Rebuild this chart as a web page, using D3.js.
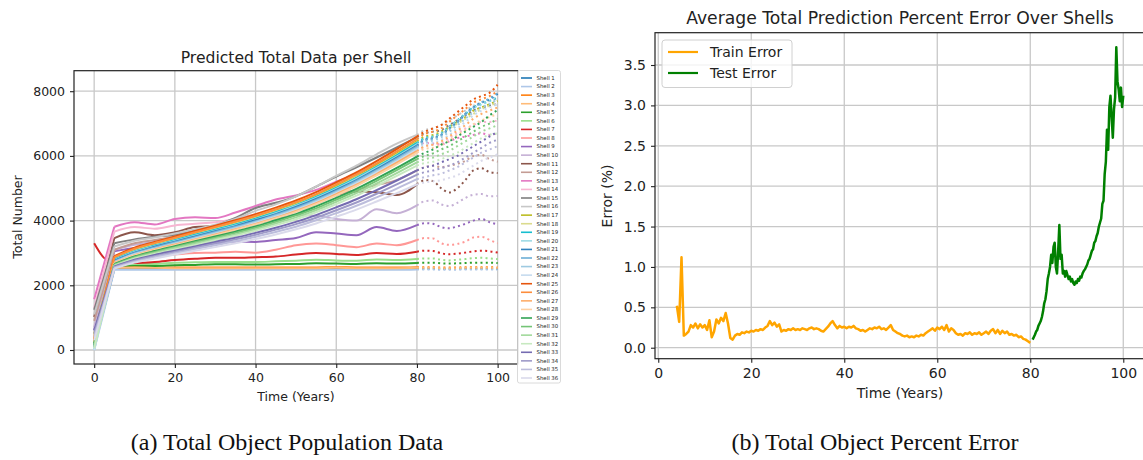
<!DOCTYPE html>
<html>
<head>
<meta charset="utf-8">
<script src="https://cdn.jsdelivr.net/npm/d3@7"></script>
<style>
body { margin: 0; background: #fff; }
text { font-family: "DejaVu Sans", sans-serif; fill: #222; }
.caption { font-family: "Liberation Serif", "DejaVu Serif", serif; fill: #111; }
</style>
</head>
<body>
<svg id="fig" width="1143" height="460"></svg>
<script>
// ---------- data: left panel (predicted totals per shell)
var solidYears = [0, 2.5, 5, 10, 15, 20, 25, 30, 35, 40, 45, 50, 55, 60, 65, 70, 75, 80];
var forecastYears = [80, 82, 84, 86, 88, 90, 92, 94, 96, 98, 100];
var shellNames = d3.range(1, 37).map(function(i) { return "Shell " + i; });
var shellColors = ["#1f77b4","#aec7e8","#ff7f0e","#ffbb78","#2ca02c","#98df8a","#d62728","#ff9896","#9467bd","#c5b0d5",
  "#8c564b","#c49c94","#e377c2","#f7b6d2","#7f7f7f","#c7c7c7","#bcbd22","#dbdb8d","#17becf","#9edae5",
  "#3182bd","#6baed6","#9ecae1","#c6dbef","#e6550d","#fd8d3c","#fdae6b","#fdd0a2","#31a354","#74c476",
  "#a1d99b","#c7e9c0","#756bb1","#9e9ac8","#bcbddc","#dadaeb"];

var shellSolid = [
  [100,1300,2500,2500,2500,2500,2500,2500,2500,2500,2500,2500,2500,2500,2500,2500,2500,2510],
  [0,1240,2480,2480,2480,2480,2480,2480,2480,2480,2480,2480,2480,2480,2480,2480,2480,2490],
  [400,1480,2560,2560,2550,2550,2550,2550,2550,2550,2550,2550,2550,2560,2550,2550,2550,2560],
  [300,1420,2540,2540,2540,2530,2530,2530,2530,2530,2530,2530,2530,2540,2530,2530,2530,2540],
  [210,1400,2590,2620,2600,2620,2630,2650,2650,2640,2650,2660,2680,2670,2660,2680,2670,2690],
  [250,1440,2630,2660,2660,2700,2710,2720,2720,2720,2740,2760,2790,2770,2760,2800,2780,2810],
  [3300,2840,2700,2690,2720,2780,2820,2850,2850,2870,2890,2950,3000,2970,2940,3000,2970,3040],
  [450,1600,2750,2850,2900,2950,3000,3010,3040,3010,3100,3240,3290,3240,3180,3290,3240,3400],
  [620,1840,3050,3150,3200,3250,3280,3300,3350,3340,3400,3460,3640,3600,3550,3800,3680,3860],
  [700,1900,3100,3250,3350,3450,3550,3650,3750,3900,4050,4170,4150,4050,4000,4350,4230,4470],
  [1020,2240,3460,3640,3550,3640,3800,3840,4050,4150,4300,4500,4650,4800,4900,4880,4790,5120],
  [900,2000,3100,3300,3400,3500,3600,3750,3850,4000,4200,4400,4600,4800,4950,5100,5250,5550],
  [1570,2690,3810,3950,3880,4050,4100,4080,4250,4450,4650,4780,4950,5200,5450,5750,6000,6300],
  [1300,2480,3660,3800,3750,3850,3900,3950,4050,4200,4350,4500,4700,4950,5250,5550,5850,6150],
  [1240,2270,3300,3420,3500,3560,3700,3850,4080,4390,4550,4750,5050,5360,5650,5950,6260,6580],
  [1100,2150,3200,3380,3480,3600,3730,3870,4050,4300,4500,4750,5050,5380,5700,6050,6380,6650],
  [500,1670,2840,3090,3270,3440,3600,3760,3930,4110,4310,4520,4780,5070,5370,5720,6080,6460],
  [450,1640,2820,3070,3250,3410,3580,3740,3900,4080,4280,4490,4750,5030,5340,5680,6040,6420],
  [200,1500,2800,3050,3230,3390,3560,3720,3880,4060,4260,4470,4730,5010,5320,5660,6020,6400],
  [0,1390,2780,3030,3210,3370,3530,3690,3850,4030,4230,4450,4700,4980,5290,5630,5980,6360],
  [150,1460,2760,3010,3190,3350,3510,3670,3830,4010,4200,4420,4670,4950,5250,5590,5950,6320],
  [100,1420,2740,2990,3170,3330,3490,3650,3810,3980,4180,4390,4640,4920,5230,5560,5920,6290],
  [50,1390,2720,2970,3140,3300,3460,3620,3780,3960,4150,4360,4610,4890,5190,5530,5880,6250],
  [0,1350,2700,2950,3120,3280,3440,3590,3750,3930,4120,4330,4570,4850,5150,5480,5830,6200],
  [300,1600,2900,3160,3340,3510,3680,3840,4010,4200,4400,4620,4880,5180,5490,5840,6210,6600],
  [350,1610,2870,3130,3310,3470,3640,3800,3970,4150,4350,4570,4820,5120,5430,5770,6140,6520],
  [250,1470,2690,2930,3110,3260,3420,3570,3730,3900,4090,4300,4540,4820,5110,5440,5790,6150],
  [200,1440,2680,2920,3090,3240,3400,3550,3710,3880,4070,4270,4510,4780,5070,5400,5740,6100],
  [200,1430,2660,2890,3060,3210,3360,3510,3660,3820,4010,4200,4440,4700,4980,5300,5630,5980],
  [150,1400,2640,2870,3030,3180,3330,3470,3620,3780,3960,4160,4380,4650,4920,5230,5560,5900],
  [100,1360,2620,2840,3000,3150,3290,3430,3570,3730,3910,4100,4320,4580,4850,5150,5470,5800],
  [50,1330,2600,2820,2970,3110,3250,3390,3530,3690,3860,4040,4260,4510,4770,5070,5380,5700],
  [600,1590,2580,2790,2940,3070,3200,3340,3470,3620,3780,3960,4170,4410,4660,4940,5240,5550],
  [500,1530,2560,2760,2900,3030,3160,3290,3420,3560,3720,3890,4090,4320,4560,4830,5120,5420],
  [400,1470,2540,2730,2870,2990,3120,3240,3360,3500,3650,3810,4010,4230,4460,4720,4990,5280],
  [300,1410,2520,2700,2830,2950,3070,3180,3300,3430,3570,3730,3910,4120,4340,4590,4850,5120]
];

var shellForecast = [
  [2510,2510,2510,2500,2500,2510,2510,2510,2510,2510,2500],
  [2490,2490,2490,2480,2480,2480,2490,2490,2490,2490,2480],
  [2560,2560,2560,2550,2550,2550,2560,2560,2560,2560,2550],
  [2540,2540,2540,2530,2530,2530,2540,2540,2540,2540,2530],
  [2690,2700,2700,2680,2670,2680,2690,2700,2700,2700,2690],
  [2810,2830,2830,2790,2770,2790,2810,2840,2850,2830,2810],
  [3040,3070,3060,2990,2960,2980,3010,3050,3070,3050,3010],
  [3400,3460,3450,3300,3250,3280,3350,3480,3500,3400,3300],
  [3860,3920,3900,3800,3760,3820,3900,4000,4050,3950,3880],
  [4470,4600,4620,4500,4450,4550,4700,4800,4820,4750,4760],
  [5120,5250,5220,5000,4870,5000,5250,5550,5620,5500,5470],
  [5550,5650,5700,5650,5700,5750,5850,6000,6030,5900,5820],
  [6300,6400,6380,6350,6450,6550,6600,6650,6700,6650,6700],
  [6150,6300,6350,6400,6550,6700,6850,6950,7050,7050,7100],
  [6580,6700,6750,6800,6950,7100,7250,7400,7500,7550,7600],
  [6650,6800,6850,6950,7100,7250,7400,7550,7650,7700,7750],
  [6460,6600,6650,6750,6900,7050,7200,7400,7500,7600,7700],
  [6420,6550,6600,6700,6850,7000,7150,7300,7450,7550,7650],
  [6400,6550,6600,6700,6900,7100,7300,7500,7600,7700,7800],
  [6360,6520,6580,6680,6880,7080,7280,7480,7600,7700,7850],
  [6320,6500,6550,6650,6850,7050,7300,7500,7650,7750,7920],
  [6290,6480,6530,6630,6830,7030,7280,7480,7650,7780,7950],
  [6250,6420,6480,6580,6750,6950,7150,7350,7500,7600,7750],
  [6200,6350,6400,6500,6650,6850,7050,7250,7400,7500,7600],
  [6600,6750,6850,6950,7150,7350,7550,7750,7850,7950,8200],
  [6520,6680,6750,6850,7050,7250,7450,7650,7750,7850,8000],
  [6150,6300,6350,6450,6600,6780,6950,7150,7300,7400,7500],
  [6100,6220,6250,6330,6480,6650,6800,6980,7100,7200,7300],
  [5980,6100,6200,6350,6450,6600,6750,6900,7050,7250,7420],
  [5900,6000,6080,6200,6300,6450,6600,6750,6900,7000,7150],
  [5800,5900,5950,6050,6150,6300,6450,6600,6750,6850,6950],
  [5700,5780,5820,5900,6000,6100,6250,6400,6550,6650,6700],
  [5550,5650,5700,5800,5900,6000,6150,6300,6450,6600,6750],
  [5420,5500,5550,5620,5700,5800,5950,6100,6250,6400,6500],
  [5280,5350,5400,5450,5550,5650,5800,5950,6100,6200,6300],
  [5120,5180,5220,5250,5320,5400,5550,5700,5850,5950,6050]
];

var leftXTicks = [0, 20, 40, 60, 80, 100];
var leftYTicks = [0, 2000, 4000, 6000, 8000];

// ---------- data: right panel (average percent error)
var trainStart = 4, trainStep = 0.5;
var trainError = [0.52,0.32,1.12,0.15,0.17,0.2,0.28,0.25,0.3,0.24,0.29,0.25,0.28,0.22,0.34,0.13,0.2,0.35,0.3,0.37,
  0.33,0.43,0.3,0.12,0.1,0.15,0.17,0.16,0.19,0.18,0.2,0.19,0.21,0.2,0.22,0.21,0.23,0.22,0.25,0.27,
  0.33,0.28,0.31,0.26,0.29,0.2,0.22,0.21,0.23,0.22,0.24,0.22,0.23,0.22,0.24,0.23,0.22,0.24,0.25,0.23,
  0.24,0.23,0.21,0.2,0.23,0.26,0.3,0.33,0.28,0.24,0.27,0.25,0.26,0.24,0.26,0.25,0.27,0.24,0.23,0.21,
  0.22,0.2,0.22,0.24,0.23,0.25,0.24,0.26,0.23,0.24,0.22,0.25,0.28,0.22,0.2,0.18,0.17,0.15,0.14,0.15,
  0.13,0.14,0.13,0.15,0.14,0.16,0.15,0.18,0.2,0.22,0.24,0.21,0.25,0.23,0.26,0.22,0.28,0.2,0.24,0.22,
  0.18,0.16,0.17,0.15,0.18,0.17,0.19,0.16,0.18,0.17,0.19,0.16,0.18,0.2,0.17,0.21,0.23,0.18,0.22,0.17,
  0.21,0.18,0.2,0.16,0.17,0.15,0.16,0.13,0.14,0.11,0.1,0.08,0.06];
var testStart = 80.5, testStep = 0.25;
var testError = [0.1,0.13,0.16,0.2,0.22,0.27,0.3,0.33,0.38,0.45,0.55,0.6,0.7,0.85,0.92,1.0,1.15,1.05,1.25,1.3,
  1.0,0.92,1.2,1.52,1.1,1.15,0.92,0.95,0.88,0.95,0.9,0.85,0.88,0.82,0.85,0.8,0.78,0.82,0.8,0.85,
  0.83,0.88,0.87,0.92,0.95,0.97,1.0,1.03,1.08,1.1,1.15,1.2,1.22,1.3,1.32,1.38,1.42,1.5,1.55,1.6,
  1.78,1.82,2.15,2.3,2.7,2.45,2.98,3.12,2.85,2.6,2.95,3.1,3.72,3.3,3.2,3.05,3.22,2.98,3.12];
var rightXTicks = [0, 20, 40, 60, 80, 100];
var rightYTicks = [0, 0.5, 1, 1.5, 2, 2.5, 3, 3.5];

var svg = d3.select("#fig");

// draws grid, ticks and frame for one panel
var drawFrame = function(g, x, y, xTicks, yTicks, yFmt, fs)
{
    var xr = x.range(), yr = y.range();
    g.append("g").selectAll("line").data(xTicks).enter().append("line")
        .attr("x1", function(d) { return x(d); }).attr("x2", function(d) { return x(d); })
        .attr("y1", yr[0]).attr("y2", yr[1])
        .attr("stroke", "#c8c8c8").attr("stroke-width", 1.3);
    g.append("g").selectAll("line").data(yTicks).enter().append("line")
        .attr("x1", xr[0]).attr("x2", xr[1])
        .attr("y1", function(d) { return y(d); }).attr("y2", function(d) { return y(d); })
        .attr("stroke", "#c8c8c8").attr("stroke-width", 1.3);

    var ax = g.append("g").attr("transform", "translate(0," + yr[0] + ")")
        .call(d3.axisBottom(x).tickValues(xTicks).tickSize(4).tickPadding(5).tickFormat(d3.format("d")));
    var ay = g.append("g").attr("transform", "translate(" + xr[0] + ",0)")
        .call(d3.axisLeft(y).tickValues(yTicks).tickSize(4).tickPadding(5).tickFormat(yFmt));
    [ax, ay].forEach(function(a) {
        a.select(".domain").remove();
        a.selectAll("line").attr("stroke", "#222").attr("stroke-width", 1.1);
        a.selectAll("text").attr("font-family", "DejaVu Sans").attr("font-size", fs).attr("fill", "#222");
    });
}

var drawSpines = function(g, x, y)
{
    var xr = x.range(), yr = y.range();
    g.append("rect").attr("x", xr[0]).attr("y", yr[1])
        .attr("width", xr[1] - xr[0]).attr("height", yr[0] - yr[1])
        .attr("fill", "none").attr("stroke", "#222").attr("stroke-width", 1.2);
}

// ---------- left panel
var xL = d3.scaleLinear().domain([-5, 105]).range([74, 517.8]);
var yL = d3.scaleLinear().domain([-433, 8634]).range([364, 70.7]);
var gL = svg.append("g");
drawFrame(gL, xL, yL, leftXTicks, leftYTicks, d3.format("d"), 12.5);

var lineL = d3.line()
    .x(function(d) { return xL(d[0]); })
    .y(function(d) { return yL(d[1]); })
    .curve(d3.curveMonotoneX);

shellSolid.forEach(function(vals, i) {
    var pts = solidYears.map(function(t, j) { return [t, vals[j]]; });
    // steep start-up leg, then the slow body
    gL.append("path").attr("d", lineL(pts.slice(0, 3)))
        .attr("fill", "none").attr("stroke", shellColors[i]).attr("stroke-width", 2);
    gL.append("path").attr("d", lineL(pts.slice(2)))
        .attr("fill", "none").attr("stroke", shellColors[i]).attr("stroke-width", 2);
    var fpts = forecastYears.map(function(t, j) { return [t, shellForecast[i][j]]; });
    gL.append("path").attr("d", lineL(fpts))
        .attr("fill", "none").attr("stroke", shellColors[i]).attr("stroke-width", 2)
        .attr("stroke-dasharray", "2,3.3");
});
drawSpines(gL, xL, yL);

gL.append("text").attr("x", 296).attr("y", 63).attr("text-anchor", "middle")
    .attr("font-size", 15.6).text("Predicted Total Data per Shell");
gL.append("text").attr("x", 296).attr("y", 401).attr("text-anchor", "middle")
    .attr("font-size", 12.5).text("Time (Years)");
gL.append("text").attr("transform", "translate(22,217) rotate(-90)").attr("text-anchor", "middle")
    .attr("font-size", 12.5).text("Total Number");

// legend with 36 entries
var legL = gL.append("g");
legL.append("rect").attr("x", 517.5).attr("y", 70.5).attr("width", 43).attr("height", 312.5)
    .attr("rx", 2).attr("fill", "#fff").attr("fill-opacity", 0.8)
    .attr("stroke", "#d0d0d0").attr("stroke-width", 0.8);
var legRow = d3.scaleLinear().domain([0, 35]).range([78, 378]);
shellNames.forEach(function(name, i) {
    legL.append("line").attr("x1", 521).attr("x2", 532)
        .attr("y1", legRow(i)).attr("y2", legRow(i))
        .attr("stroke", shellColors[i]).attr("stroke-width", 1.6);
    legL.append("text").attr("x", 536.5).attr("y", legRow(i) + 1.9)
        .attr("font-size", 5.4).text(name);
});

// ---------- right panel
var xR = d3.scaleLinear().domain([-0.7, 104.8]).range([655, 1145.6]);
var yR = d3.scaleLinear().domain([-0.136, 3.9]).range([358.7, 32.7]);
var gR = svg.append("g");
drawFrame(gR, xR, yR, rightXTicks, rightYTicks, d3.format(".1f"), 14);

var lineR = d3.line()
    .x(function(d) { return xR(d[0]); })
    .y(function(d) { return yR(d[1]); });
var trainPts = trainError.map(function(v, i) { return [trainStart + i * trainStep, v]; });
var testPts = testError.map(function(v, i) { return [testStart + i * testStep, v]; });
gR.append("path").attr("d", lineR(trainPts)).attr("fill", "none")
    .attr("stroke", "orange").attr("stroke-width", 2.5).attr("stroke-linejoin", "round");
gR.append("path").attr("d", lineR(testPts)).attr("fill", "none")
    .attr("stroke", "green").attr("stroke-width", 2.5).attr("stroke-linejoin", "round");
drawSpines(gR, xR, yR);

gR.append("text").attr("x", 900).attr("y", 24).attr("text-anchor", "middle")
    .attr("font-size", 17.2).text("Average Total Prediction Percent Error Over Shells");
gR.append("text").attr("x", 900).attr("y", 398).attr("text-anchor", "middle")
    .attr("font-size", 14).text("Time (Years)");
gR.append("text").attr("transform", "translate(612,196) rotate(-90)").attr("text-anchor", "middle")
    .attr("font-size", 14).text("Error (%)");

var legR = gR.append("g");
legR.append("rect").attr("x", 662).attr("y", 40).attr("width", 130).attr("height", 47.5)
    .attr("rx", 3).attr("fill", "#fff").attr("fill-opacity", 0.8)
    .attr("stroke", "#d0d0d0").attr("stroke-width", 1);
[["Train Error", "orange", 52], ["Test Error", "green", 73]].forEach(function(e) {
    legR.append("line").attr("x1", 668).attr("x2", 698).attr("y1", e[2]).attr("y2", e[2])
        .attr("stroke", e[1]).attr("stroke-width", 2.2);
    legR.append("text").attr("x", 710).attr("y", e[2] + 5).attr("font-size", 14).text(e[0]);
});

// ---------- captions
svg.append("text").attr("class", "caption").attr("x", 287).attr("y", 450)
    .attr("text-anchor", "middle").attr("font-size", 24).text("(a) Total Object Population Data");
svg.append("text").attr("class", "caption").attr("x", 875).attr("y", 450)
    .attr("text-anchor", "middle").attr("font-size", 24).text("(b) Total Object Percent Error");
</script>
</body>
</html>
